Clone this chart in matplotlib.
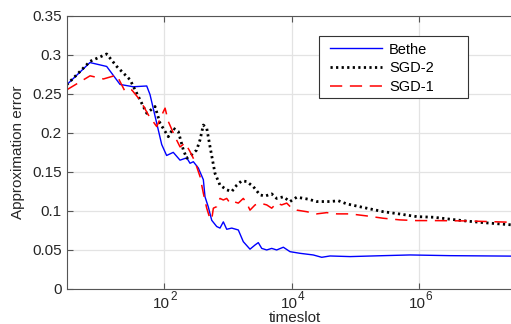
import matplotlib
matplotlib.use("Agg")
import matplotlib.pyplot as plt
from matplotlib.patches import Rectangle
from matplotlib.transforms import offset_copy
import numpy as np

# timeslot / approximation error
bethe_t = [3.03, 7.0, 12.8, 20.7, 33.4, 54.2, 61, 93, 111, 141, 180, 229, 258, 291,
           348, 417, 443, 499, 564, 675, 760, 857, 968, 1160, 1470, 1760, 2240,
           2690, 3020, 3420, 4090, 4900, 5860, 7450, 9480, 13600, 21900, 29700,
           40100, 82400, 2.73e5, 7.16e5, 3.03e6, 4.2e7]
bethe_e = [0.2615, 0.290, 0.285, 0.262, 0.259, 0.260, 0.249, 0.185, 0.171, 0.175,
           0.165, 0.168, 0.161, 0.163, 0.155, 0.140, 0.118, 0.105, 0.088, 0.080,
           0.078, 0.086, 0.0765, 0.078, 0.0756, 0.0606, 0.051, 0.0564, 0.0594,
           0.052, 0.050, 0.052, 0.050, 0.0535, 0.0478, 0.0457, 0.0436, 0.0406,
           0.0423, 0.0415, 0.0427, 0.0436, 0.0427, 0.042]

sgd2_t = [3.03, 7.03, 12.8, 18.4, 29.7, 40.1, 54.2, 73.1, 87.5, 118, 141, 169, 203,
          229, 274, 328, 370, 417, 471, 530, 635, 760, 968, 1160, 1390, 1660, 1990,
          2530, 3210, 3850, 4900, 5860, 7450, 9480, 12100, 18300, 24800, 40100,
          54100, 73100, 1.5e5, 2.73e5, 4.99e5, 9.1e5, 1.66e6, 3.03e6, 5.52e6,
          1e7, 4.2e7]
sgd2_e = [0.2615, 0.2915, 0.301, 0.285, 0.268, 0.2465, 0.225, 0.2337, 0.2124,
          0.195, 0.206, 0.2017, 0.178, 0.1676, 0.172, 0.178, 0.191, 0.210, 0.206,
          0.1825, 0.148, 0.133, 0.127, 0.1248, 0.133, 0.1385, 0.1376, 0.131,
          0.1205, 0.119, 0.1218, 0.116, 0.118, 0.112, 0.1176, 0.115, 0.112, 0.112,
          0.113, 0.109, 0.1035, 0.099, 0.096, 0.0927, 0.0919, 0.0894, 0.087,
          0.085, 0.081]

sgd1_t = [3.03, 7.03, 11.4, 18.4, 24.8, 31.6, 42.6, 57.4, 77.7, 98.6, 105, 118, 150,
          180, 216, 258, 309, 370, 417, 471, 530, 564, 598, 675, 760, 857, 968,
          1090, 1230, 1470, 1760, 1990, 2240, 2690, 3210, 4090, 4900, 5860, 7010,
          8410, 10100, 12100, 17300, 24800, 35600, 51000, 82400, 1.5e5, 2.73e5,
          4.99e5, 9.1e5, 1.66e6, 5.52e6, 4.2e7]
sgd1_e = [0.255, 0.273, 0.269, 0.274, 0.253, 0.255, 0.242, 0.223, 0.208, 0.227,
          0.2316, 0.2145, 0.195, 0.182, 0.187, 0.176, 0.163, 0.144, 0.1226, 0.1035,
          0.090, 0.089, 0.1035, 0.1055, 0.116, 0.114, 0.116, 0.110, 0.112, 0.110,
          0.116, 0.110, 0.101, 0.1077, 0.110, 0.1077, 0.1035, 0.110, 0.1077, 0.110,
          0.1035, 0.101, 0.099, 0.0962, 0.0978, 0.0962, 0.0962, 0.0936, 0.0906,
          0.0885, 0.0876, 0.0876, 0.0872, 0.085]

x_ticks = [1e2, 1e4, 1e6]
x_exps = ['2', '4', '6']
y_ticks = [0, 0.05, 0.1, 0.15, 0.2, 0.25, 0.3, 0.35]
y_labels = ['0', '0.05', '0.1', '0.15', '0.2', '0.25', '0.3', '0.35']

plt.rcParams['font.family'] = ['Liberation Sans', 'DejaVu Sans']
txt = '#262626'

W, H = 511, 324
x0, x1, y0, y1 = 66.7, 523, 289, 15.7   # axes box in pixels (right edge runs off the figure)
fig = plt.figure(figsize=(W / 100, H / 100), dpi=100)
ax = fig.add_axes([x0 / W, (H - y0) / H, (x1 - x0) / W, (y0 - y1) / H])

ax.plot(bethe_t, bethe_e, color='#0000ff', lw=1.0, label='Bethe')
ax.plot(sgd2_t, sgd2_e, color='black', lw=2.0, ls=(0, (0.8, 1.2)), label='SGD-2')
ax.plot(sgd1_t, sgd1_e, color='#ff0000', lw=1.1, ls=(0, (8, 5)), label='SGD-1')

ax.set_xscale('log')
ax.set_xlim(3.03, 4.2e7)
ax.set_ylim(0, 0.35)
ax.set_xticks(x_ticks)
ax.set_xticklabels([])
ax.xaxis.set_minor_locator(matplotlib.ticker.NullLocator())
ax.set_yticks(y_ticks)
ax.set_yticklabels(y_labels)

ax.grid(True, color='#e3e3e3', lw=0.9)
ax.set_axisbelow(True)
for s in ['left', 'bottom', 'top', 'right']:
    ax.spines[s].set_color('#555555')
    ax.spines[s].set_linewidth(0.8)
ax.tick_params(direction='in', length=4, width=0.8, color='#555555',
               labelcolor=txt, labelsize=11, top=True)

# MATLAB-style 10^n labels: base and small raised exponent
xtr = ax.get_xaxis_transform()
for t, e in zip(x_ticks, x_exps):
    ax.text(t, 0, '10', fontsize=11, color=txt, ha='right', va='baseline',
            transform=offset_copy(xtr, fig, x=6.3, y=-(308 - y0), units='dots'))
    ax.text(t, 0, e, fontsize=8.5, color=txt, ha='left', va='baseline',
            transform=offset_copy(xtr, fig, x=6.3, y=-(300.5 - y0), units='dots'))

ax.set_xlabel('timeslot', fontsize=11, color=txt)
ax.xaxis.set_label_coords(0.5, -(322.5 - y0) / (y0 - y1))
ax.xaxis.label.set_va('baseline')
ax.set_ylabel('Approximation error', fontsize=11, color=txt, labelpad=5)

# legend entries without frame, frame drawn as a box of MATLAB size
leg = ax.legend(loc='upper left',
                bbox_to_anchor=((323.4 - x0) / (x1 - x0), (y0 - 36) / (y0 - y1)),
                borderaxespad=0, fontsize=10.5, frameon=False,
                handlelength=3.6, borderpad=0.45, labelspacing=0.33,
                handletextpad=0.45)
box = Rectangle((319 / W, (H - 98) / H), 149 / W, 62 / H, transform=fig.transFigure,
                facecolor='white', edgecolor='#333333', lw=0.8, zorder=4)
ax.add_artist(box)
box.set_clip_on(False)
leg.set_zorder(5)

fig.savefig('out.png', dpi=100)
